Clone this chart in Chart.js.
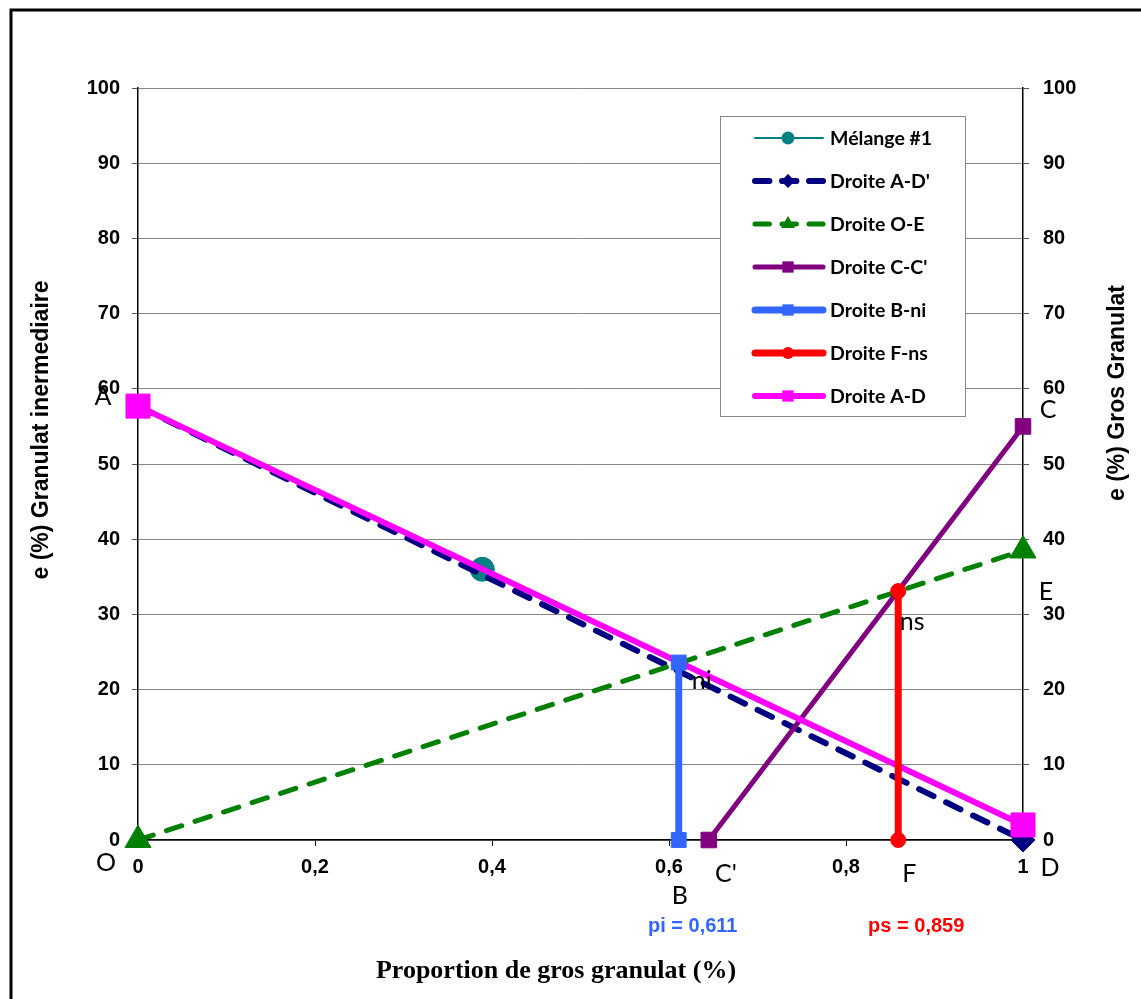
<!DOCTYPE html>
<html lang="fr">
<head>
<meta charset="utf-8">
<title>Proportion de gros granulat</title>
<script src="https://cdn.jsdelivr.net/npm/chart.js@4/dist/chart.umd.min.js"></script>
<style>
  html, body { margin: 0; padding: 0; background: #fff; }
  #wrap { width: 1141px; height: 999px; }
</style>
</head>
<body>
<div id="wrap"><canvas id="chart" width="1141" height="999"></canvas></div>
<script>
// Series values (x = proportion de gros granulat, y = e %)
const melangeX = [0.389];
const melangeY = [36];

const droiteADprimeX = [0, 1];
const droiteADprimeY = [57.7, 0];

const droiteOEX = [0, 1];
const droiteOEY = [0, 38.5];

const droiteCCprimeX = [0.645, 1];
const droiteCCprimeY = [0, 55];

const droiteBniX = [0.611, 0.611];
const droiteBniY = [0, 23.6];

const droiteFnsX = [0.859, 0.859];
const droiteFnsY = [0, 33.1];

const droiteADX = [0, 1];
const droiteADY = [57.7, 2];

const seriesNames = ['Mélange #1', "Droite A-D'", 'Droite O-E', "Droite C-C'", 'Droite B-ni', 'Droite F-ns', 'Droite A-D'];

// Point names and the values read under the axis
const pointNames = ['A', 'C', 'E', 'ns', 'ni', 'O', 'B', "C'", 'F', 'D'];
const pointX = [0, 1, 1, 0.859, 0.611, 0, 0.611, 0.645, 0.859, 1];
const pointY = [57.7, 55, 38.5, 33.1, 23.6, 0, 0, 0, 0, 0];

const pi = 0.611;
const ps = 0.859;

const xTicks = [0, 0.2, 0.4, 0.6, 0.8, 1];

const toPoints = (xs, ys) => xs.map((x, i) => ({ x, y: ys[i] }));
const frNumber = (v) => String(Math.round(v * 1000) / 1000).replace('.', ',');

function series(label, points, color, opts) {
  return Object.assign({
    label,
    data: points,
    showLine: true,
    borderColor: color,
    backgroundColor: color,
    pointBackgroundColor: color,
    pointBorderColor: color,
    pointBorderWidth: 1,
    borderCapStyle: 'round',
    borderJoinStyle: 'round',
    clip: false,
  }, opts);
}

const datasets = [
  series(seriesNames[0], toPoints(melangeX, melangeY), '#008080',
    { borderWidth: 2, pointStyle: 'circle', pointRadius: 12, order: 7, legendRadius: 6.5 }),
  series(seriesNames[1], toPoints(droiteADprimeX, droiteADprimeY), '#000080',
    { borderWidth: 6, borderDash: [16, 14], pointStyle: 'rectRot', pointRadius: 12, order: 6, legendRadius: 7 }),
  series(seriesNames[2], toPoints(droiteOEX, droiteOEY), '#008000',
    { borderWidth: 5, borderDash: [16, 14], pointStyle: 'triangle', pointRadius: 15, order: 5, legendRadius: 8 }),
  series(seriesNames[3], toPoints(droiteCCprimeX, droiteCCprimeY), '#800080',
    { borderWidth: 5, pointStyle: 'rect', pointRadius: 11, order: 4, legendRadius: 8 }),
  series(seriesNames[4], toPoints(droiteBniX, droiteBniY), '#3366FF',
    { borderWidth: 7, pointStyle: 'rect', pointRadius: 10.5, order: 2, legendRadius: 8 }),
  series(seriesNames[5], toPoints(droiteFnsX, droiteFnsY), '#FF0000',
    { borderWidth: 7, pointStyle: 'circle', pointRadius: 7.5, order: 1, legendRadius: 6 }),
  series(seriesNames[6], toPoints(droiteADX, droiteADY), '#FF00FF',
    { borderWidth: 6, pointStyle: 'rect', pointRadius: 17, order: 3, legendRadius: 8 }),
];

const tickFont = { family: '"Liberation Sans", Arial, sans-serif', size: 20, weight: 'bold' };

function marker(ctx, style, x, y, r) {
  ctx.beginPath();
  if (style === 'circle') {
    ctx.arc(x, y, r, 0, Math.PI * 2);
  } else if (style === 'rect') {
    const s = r * Math.SQRT1_2;
    ctx.rect(x - s, y - s, s * 2, s * 2);
  } else if (style === 'rectRot') {
    ctx.moveTo(x, y - r); ctx.lineTo(x + r, y); ctx.lineTo(x, y + r); ctx.lineTo(x - r, y);
    ctx.closePath();
  } else if (style === 'triangle') {
    ctx.moveTo(x, y - r);
    ctx.lineTo(x + r * 0.866, y + r * 0.5);
    ctx.lineTo(x - r * 0.866, y + r * 0.5);
    ctx.closePath();
  }
  ctx.fill();
}

// frame, axis titles, legend box and point names
const decorations = {
  id: 'decorations',
  beforeDraw(chart) {
    const { ctx, width, height } = chart;
    ctx.save();
    ctx.fillStyle = '#fff';
    ctx.fillRect(0, 0, width, height);
    ctx.restore();
  },
  afterDatasetsDraw(chart) {
    const { ctx } = chart;
    const xs = chart.scales.x;
    const ys = chart.scales.y;

    // outer frame (left and top edges)
    ctx.save();
    ctx.strokeStyle = '#000';
    ctx.lineWidth = 3;
    ctx.beginPath();
    ctx.moveTo(11, chart.height);
    ctx.lineTo(11, 10);
    ctx.lineTo(chart.width, 10);
    ctx.stroke();

    // axis titles
    ctx.fillStyle = '#000';
    ctx.textAlign = 'center';
    ctx.textBaseline = 'middle';
    ctx.font = 'bold 23px "Liberation Sans", Arial, sans-serif';
    ctx.save();
    ctx.translate(42, 430);
    ctx.rotate(-Math.PI / 2);
    ctx.fillText('e (%) Granulat inermediaire', 0, 0);
    ctx.restore();
    ctx.save();
    ctx.translate(1118, 393);
    ctx.rotate(-Math.PI / 2);
    ctx.fillText('e (%) Gros Granulat', 0, 0);
    ctx.restore();
    ctx.font = 'bold 26px "Liberation Serif", "Times New Roman", serif';
    ctx.fillText('Proportion de gros granulat (%)', 556, 971);

    // point names beside the marks
    const nameOffsets = {
      A: [-35, -9], C: [25, -16], E: [23, 41], ns: [14, 31], ni: [23, 18],
      O: [-32, 23], B: [1, 56], "C'": [17, 34], F: [11, 34], D: [27, 28],
    };
    ctx.font = '25px Lato, "Open Sans", sans-serif';
    pointNames.forEach((name, i) => {
      const off = nameOffsets[name];
      ctx.fillText(name, xs.getPixelForValue(pointX[i]) + off[0], ys.getPixelForValue(pointY[i]) + off[1]);
    });

    // pi / ps values under the axis
    ctx.font = 'bold 20px "Liberation Sans", Arial, sans-serif';
    ctx.fillStyle = '#3366FF';
    ctx.fillText('pi = ' + frNumber(pi), xs.getPixelForValue(pi) + 14, ys.getPixelForValue(0) + 86);
    ctx.fillStyle = '#FF0000';
    ctx.fillText('ps = ' + frNumber(ps), xs.getPixelForValue(ps) + 18, ys.getPixelForValue(0) + 86);

    // legend box
    const box = { left: 720, top: 116, width: 245, height: 300 };
    ctx.fillStyle = '#fff';
    ctx.fillRect(box.left, box.top, box.width, box.height);
    ctx.strokeStyle = '#888';
    ctx.lineWidth = 1;
    ctx.strokeRect(box.left + 0.5, box.top + 0.5, box.width, box.height);

    ctx.textAlign = 'left';
    ctx.font = 'bold 19.5px Lato, "Open Sans", sans-serif';
    chart.data.datasets.forEach((ds, i) => {
      const y = box.top + 22 + i * 43;
      ctx.save();
      ctx.strokeStyle = ds.borderColor;
      ctx.lineWidth = ds.borderWidth;
      ctx.lineCap = 'round';
      ctx.setLineDash(ds.borderDash ? ds.borderDash.map((d) => d * 0.9) : []);
      ctx.beginPath();
      ctx.moveTo(755, y);
      ctx.lineTo(823, y);
      ctx.stroke();
      ctx.restore();
      ctx.fillStyle = ds.pointBackgroundColor;
      marker(ctx, ds.pointStyle, 788, y, ds.legendRadius);
      ctx.fillStyle = '#000';
      ctx.fillText(ds.label, 830, y + 1);
    });
    ctx.restore();
  },
};

new Chart(document.getElementById('chart'), {
  type: 'scatter',
  data: { datasets },
  options: {
    responsive: false,
    animation: false,
    events: [],
    layout: { padding: { top: 88, left: 0, right: 0, bottom: 0 } },
    plugins: { legend: { display: false }, tooltip: { enabled: false } },
    scales: {
      x: {
        type: 'linear',
        min: 0,
        max: 1,
        afterBuildTicks(scale) {
          scale.ticks = xTicks.map((value) => ({ value }));
        },
        afterFit(scale) { scale.height = 159; },
        ticks: {
          color: '#000',
          font: tickFont,
          padding: 9,
          maxRotation: 0,
          callback: (v) => frNumber(v),
        },
        grid: { drawOnChartArea: false, drawTicks: true, tickLength: 6, tickColor: '#000' },
        border: { color: '#000', width: 1.5 },
      },
      y: {
        position: 'left',
        min: 0,
        max: 100,
        afterFit(scale) { scale.width = 138; },
        ticks: { stepSize: 10, color: '#000', font: tickFont, padding: 12 },
        grid: { color: '#878787', lineWidth: 1, tickLength: 6, tickColor: '#555' },
        border: { color: '#000', width: 1.5 },
      },
      y2: {
        position: 'right',
        min: 0,
        max: 100,
        afterFit(scale) { scale.width = 118; },
        ticks: { stepSize: 10, color: '#000', font: tickFont, padding: 14 },
        grid: { drawOnChartArea: false, tickLength: 6, tickColor: '#555' },
        border: { color: '#000', width: 1.5 },
      },
    },
  },
  plugins: [decorations],
});
</script>
</body>
</html>
